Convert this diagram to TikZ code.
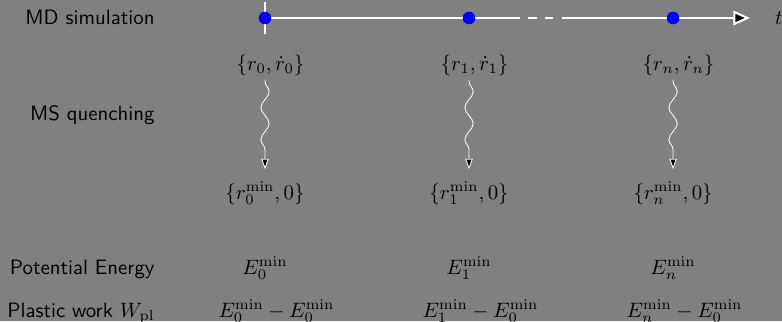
\documentclass[tikz,border=0pt]{standalone}
\usetikzlibrary{arrows.meta, positioning, decorations.pathmorphing}
\usepackage{amsmath}

\begin{document}
\begin{tikzpicture}[
    rowlabel/.style={font=\sffamily, anchor=base east, inner sep=0pt},
    snap/.style={circle, fill=blue, inner sep=0pt, minimum size=0.21cm},
    state/.style={anchor=base, inner sep=2pt},
    minstate/.style={anchor=base, inner sep=2pt, outer sep=4pt},
    energy/.style={anchor=base, inner sep=0pt},
    timeline/.style={white, line width=1pt},
    quench/.style={white, line width=0.4pt, decorate,
                   decoration={snake, amplitude=0.7mm, segment length=5.4mm,
                               pre length=0.3mm, post length=1.8mm},
                   -{Triangle[fill=black, length=5pt, width=3.6pt]}}
  ]
  \fill[gray] (0,0) rectangle (13.2,5.419);
  \useasboundingbox (0,0) rectangle (13.2,5.419);

  % row labels
  \node[rowlabel] (mdlabel) at (2.616, 5.013) {MD simulation};
  \node[rowlabel] (mslabel) at (2.616, 3.393) {MS quenching};
  \node[rowlabel] (pelabel) at (2.616, 0.793) {Potential Energy};
  \node[rowlabel] (pwlabel) at (2.616, 0.068) {Plastic work $W_{\mathrm{pl}}$};

  % time axis
  \coordinate (tick top) at (4.473, 5.385);
  \coordinate (tick bot) at (4.473, 4.845);
  \coordinate (cutA) at (8.778, 5.115);
  \coordinate (cutB) at (9.622, 5.115);
  \coordinate (tend) at (12.66, 5.115);
  \node[snap] (p0) at (4.473, 5.115) {};
  \node[snap] (p1) at (7.917, 5.115) {};
  \node[snap] (pn) at (11.361, 5.115) {};

  \draw[timeline] (tick top) -- (tick bot);
  \draw[timeline] (p0.center) -- (cutA);
  \draw[timeline, dash pattern=on 4pt off 4pt, dash phase=4pt] (cutA) -- (cutB);
  \draw[timeline, -{Triangle[fill=black, length=8pt, width=7pt]}] (cutB) -- (tend);
  \node[snap] at (p0) {};
  \node[snap] at (p1) {};
  \node[snap] at (pn) {};
  \node[right=0.3cm of tend] (tlabel) {$t$};

  % configurations along the trajectory
  \node[state] (s0) at (4.566, 4.237) {$\{r_0, \dot{r}_0\}$};
  \node[state] (s1) at (8.010, 4.237) {$\{r_1, \dot{r}_1\}$};
  \node[state] (sn) at (11.454, 4.237) {$\{r_n, \dot{r}_n\}$};

  \node[minstate] (m0) at (4.473, 2.059) {$\{r_0^{\min}, 0\}$};
  \node[minstate] (m1) at (7.917, 2.059) {$\{r_1^{\min}, 0\}$};
  \node[minstate] (mn) at (11.361, 2.059) {$\{r_n^{\min}, 0\}$};

  \draw[quench] (m0 |- s0.south) -- (m0);
  \draw[quench] (m1 |- s1.south) -- (m1);
  \draw[quench] (mn |- sn.south) -- (mn);

  % energies
  \node[energy] (e0) at (4.473, 0.793) {$E_0^{\min}$};
  \node[energy] (e1) at (7.917, 0.793) {$E_1^{\min}$};
  \node[energy] (en) at (11.361, 0.793) {$E_n^{\min}$};

  \node[energy] (w0) at (4.667, 0.068) {$E_0^{\min} - E_0^{\min}$};
  \node[energy] (w1) at (8.111, 0.068) {$E_1^{\min} - E_0^{\min}$};
  \node[energy] (wn) at (11.555, 0.068) {$E_n^{\min} - E_0^{\min}$};
\end{tikzpicture}
\end{document}
